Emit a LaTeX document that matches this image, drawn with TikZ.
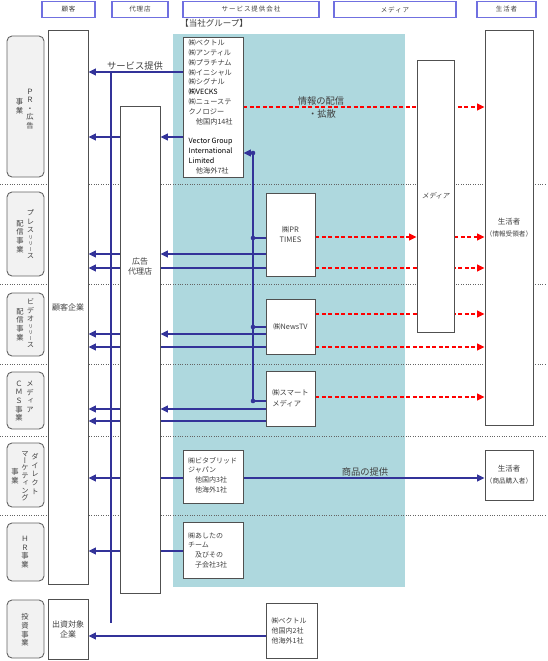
\documentclass[tikz,border=0pt]{standalone}
\usepackage{fontspec}
\setmainfont{Noto Sans CJK JP}
\newfontfamily\vfont[RawFeature=+vert]{Noto Sans CJK JP}
\newfontfamily\slfont[FakeSlant=0.2]{Noto Sans CJK JP}
\usetikzlibrary{arrows.meta}
\definecolor{lblue}{RGB}{51,51,153}
\definecolor{cyanbg}{RGB}{174,216,222}
\definecolor{hdr}{RGB}{112,112,224}
\definecolor{txt}{RGB}{64,64,64}
\definecolor{sepc}{RGB}{100,100,100}
\definecolor{boxc}{RGB}{80,80,80}
\definecolor{segfill}{RGB}{242,242,242}
\newcommand{\smk}[1]{{\fontsize{5}{6}\selectfont #1}}
\pgfdeclarelayer{bg}
\pgfdeclarelayer{mid}
\pgfsetlayers{bg,mid,main}
\tikzset{
 hdrbox/.style={draw=hdr, line width=1.4pt, fill=white, inner sep=0pt, text=txt,
   font=\fontsize{6.5}{8}\selectfont\addfontfeature{LetterSpace=15}},
 wbox/.style={draw=boxc, line width=0.9pt, fill=white, inner sep=0pt, text=txt},
 segbox/.style={draw=sepc, line width=0.9pt, fill=segfill, rounded corners=5pt, inner sep=0pt},
 vlab/.style={align=center, font=\vfont\fontsize{7.3}{8.6}\selectfont, text=txt, inner sep=0pt},
 btxt/.style={font=\fontsize{7.2}{9.8}\selectfont, text=txt, align=left, inner sep=0pt},
 lbl/.style={font=\fontsize{9.3}{11}\selectfont, text=txt, inner sep=0pt},
 barrow/.style={draw=lblue, line width=1.2pt, -{Triangle[length=7.5pt,width=7pt]}},
 bline/.style={draw=lblue, line width=1.2pt},
 rarrow/.style={draw=red, line width=1.3pt, dash pattern=on 4pt off 2.5pt, -{Triangle[length=7.5pt,width=7pt]}},
 sepline/.style={draw=sepc, line width=1pt, dash pattern=on 1pt off 1.4pt},
 dotn/.style={circle, fill=lblue, inner sep=0pt, minimum size=4.6pt},
}
\begin{document}
\begin{tikzpicture}[x=1pt,y=-1pt]
\useasboundingbox (0,0) rectangle (547,661);
\begin{pgfonlayer}{bg}
\fill[cyanbg] (173,34) rectangle (405,587);
\foreach \yy in {184,284,364,436,515}{\draw[sepline] (0,\yy) -- (547,\yy);}
\end{pgfonlayer}

% headers
\node[hdrbox, minimum width=53pt, minimum height=16pt] (h1) at (68.5,9.5) {顧客};
\node[hdrbox, minimum width=56pt, minimum height=16pt] (h2) at (140,9.5) {代理店};
\node[hdrbox, minimum width=136pt, minimum height=16pt] (h3) at (251,9.5) {サービス提供会社};
\node[hdrbox, minimum width=122pt, minimum height=16pt] (h4) at (395,9.5) {メディア};
\node[hdrbox, minimum width=59pt, minimum height=16pt] (h5) at (506.5,9.5) {生活者};
\node[lbl, font=\fontsize{8.5}{10}\selectfont] (grouplbl) at (214,23) {【当社グループ】};

% segment boxes
\node[segbox, minimum width=37pt, minimum height=141pt] (seg1) at (25.5,106.5) {};
\node[segbox, minimum width=37pt, minimum height=84pt] (seg2) at (25.5,234) {};
\node[segbox, minimum width=37pt, minimum height=63pt] (seg3) at (25.5,324.5) {};
\node[segbox, minimum width=37pt, minimum height=57pt] (seg4) at (25.5,400.5) {};
\node[segbox, minimum width=37pt, minimum height=64pt] (seg5) at (25.5,475) {};
\node[segbox, minimum width=37pt, minimum height=58pt] (seg6) at (25.5,552) {};
\node[segbox, minimum width=37pt, minimum height=58pt] (seg7) at (25.5,629) {};
\node[vlab] (s1r) at (30,109) {Ｐ\\Ｒ\\・\\広\\告};
\node[vlab] (s1l) at (19.5,106.5) {事\\業};
\node[vlab] (s2r) at (30.5,234) {プ\\レ\\ス\\[-1.5pt]\smk{リ}\\[-3pt]\smk{リ}\\[-3pt]\smk{ー}\\[-1.5pt]ス};
\node[vlab] (s2l) at (20,236.5) {配\\信\\事\\業};
\node[vlab] (s3r) at (30.5,323) {ビ\\デ\\オ\\[-1.5pt]\smk{リ}\\[-3pt]\smk{リ}\\[-3pt]\smk{ー}\\[-1.5pt]ス};
\node[vlab] (s3l) at (20,324.5) {配\\信\\事\\業};
\node[vlab] (s4r) at (30,397) {メ\\デ\\ィ\\ア};
\node[vlab] (s4l) at (19,401) {Ｃ\\Ｍ\\Ｓ\\事\\業};
\node[vlab] (s5r) at (35,474) {ダ\\イ\\レ\\ク\\ト};
\node[vlab, font=\vfont\fontsize{7.3}{7.4}\selectfont] (s5m) at (25,476) {マ\\ー\\ケ\\テ\\ィ\\ン\\グ};
\node[vlab] (s5l) at (15,476) {事\\業};
\node[vlab] (s6) at (25,552) {Ｈ\\Ｒ\\事\\業};
\node[vlab] (s7) at (25,630) {投\\資\\事\\業};

% main boxes
\node[wbox, minimum width=40pt, minimum height=554pt, font=\fontsize{8}{10}\selectfont] (kokyaku) at (68,307) {顧客企業};
\node[wbox, minimum width=40pt, minimum height=60pt, align=center, font=\fontsize{8}{10}\selectfont] (shusshi) at (68,629) {出資対象\\企業};
\node[wbox, minimum width=40pt, minimum height=487pt] (dairi) at (140,349.5) {};
\node[btxt, align=center, font=\fontsize{8}{9.5}\selectfont] (dairil) at (140,266.5) {広告\\代理店};
\node[wbox, minimum width=60pt, minimum height=140pt] (grp1) at (213,107) {};
\node[btxt, anchor=north west] (grp1t) at (188.5,39.5) {㈱ベクトル\\㈱アンティル\\㈱プラチナム\\㈱イニシャル\\㈱シグナル\\{\color{black}㈱VECKS}\\㈱ニューステ\\クノロジー\\　他国内14社\\[9.8pt]{\color{black}Vector Group}\\{\color{black}International}\\{\color{black}Limited}\\　他海外7社};
\node[wbox, minimum width=49pt, minimum height=83pt, align=center, font=\fontsize{7.5}{10}\selectfont] (ptimes) at (290.5,234.5) {㈱PR\\TIMES};
\node[wbox, minimum width=49pt, minimum height=55pt, font=\fontsize{7.3}{10}\selectfont] (newstv) at (290.5,326.5) {㈱NewsTV};
\node[wbox, minimum width=49pt, minimum height=55pt, align=left, font=\fontsize{7.3}{11}\selectfont] (smart) at (290.5,398.5) {㈱スマート\\メディア};
\node[wbox, minimum width=60pt, minimum height=53pt] (vita) at (213,476.5) {};
\node[btxt, anchor=north west, font=\fontsize{7}{9.7}\selectfont] (vitat) at (188,457) {㈱ビタブリッド\\ジャパン\\　他国内3社\\　他海外1社};
\node[wbox, minimum width=60pt, minimum height=56pt] (ashita) at (213,550) {};
\node[btxt, anchor=north west, font=\fontsize{7}{9.7}\selectfont] (ashitat) at (188,532) {㈱あしたの\\チーム\\　及びその\\　子会社3社};
\node[wbox, minimum width=51pt, minimum height=55pt] (vector2) at (291.5,630.5) {};
\node[btxt, anchor=north west, font=\fontsize{7}{9.8}\selectfont] (vector2t) at (271.5,617.5) {㈱ベクトル\\ 他国内2社\\ 他海外1社};
\node[wbox, minimum width=37pt, minimum height=272pt] (media) at (435.5,196) {};
\node[text=txt, inner sep=0pt, font=\slfont\fontsize{7}{8}\selectfont] (medial) at (435.5,196) {メディア};
\node[wbox, minimum width=48pt, minimum height=395pt, align=center] (seikatsu1) at (509,227.5) {{\fontsize{7.5}{9.5}\selectfont 生活者}\\{\fontsize{6.6}{9.5}\selectfont （情報受領者）}};
\node[wbox, minimum width=48pt, minimum height=50pt, align=center] (seikatsu2) at (509,475) {{\fontsize{7.5}{9.5}\selectfont 生活者}\\{\fontsize{6.6}{9.5}\selectfont （商品購入者）}};

% labels
\node[lbl] (servl) at (135,65.5) {サービス提供};
\node[lbl] (info1) at (321,101) {情報の配信};
\node[lbl] (info2) at (322,113.5) {・拡散};
\node[lbl] (shohin) at (365,471.5) {商品の提供};

% coordinates
\coordinate (v0) at (111,72);
\coordinate (v1) at (111,623);
\coordinate (j0) at (253,153);
\coordinate (j1) at (253,238);
\coordinate (j2) at (253,327);
\coordinate (j3) at (253,401);

\begin{pgfonlayer}{mid}
% blue
\draw[bline] (v0) -- (v1);
\draw[barrow] (grp1.west |- v0) -- (kokyaku.east |- v0);
\draw[barrow] (grp1.west |- 0,137) -- (dairi.east |- 0,137);
\draw[barrow] (dairi.west |- 0,137) -- (kokyaku.east |- 0,137);
\draw[bline] (j0) -- (j3);
\draw[barrow] (j0) -- (grp1.east |- j0);
\draw[bline] (j1) -- (ptimes.west |- j1);
\draw[bline] (j2) -- (newstv.west |- j2);
\draw[bline] (j3) -- (smart.west |- j3);
\draw[barrow] (ptimes.west |- 0,254) -- (dairi.east |- 0,254);
\draw[barrow] (dairi.west |- 0,254) -- (kokyaku.east |- 0,254);
\draw[barrow] (ptimes.west |- 0,268) -- (kokyaku.east |- 0,268);
\draw[barrow] (newstv.west |- 0,334) -- (dairi.east |- 0,334);
\draw[barrow] (dairi.west |- 0,334) -- (kokyaku.east |- 0,334);
\draw[barrow] (newstv.west |- 0,347) -- (kokyaku.east |- 0,347);
\draw[barrow] (smart.west |- 0,409) -- (dairi.east |- 0,409);
\draw[barrow] (dairi.west |- 0,409) -- (kokyaku.east |- 0,409);
\draw[barrow] (smart.west |- 0,421) -- (kokyaku.east |- 0,421);
\draw[barrow] (vita.west |- 0,478) -- (kokyaku.east |- 0,478);
\draw[barrow] (vita.east |- 0,478) -- (seikatsu2.west |- 0,478);
\draw[barrow] (ashita.west |- 0,551) -- (kokyaku.east |- 0,551);
\draw[barrow] (vector2.west |- 0,636) -- (shusshi.east |- 0,636);
% red
\draw[rarrow] (grp1.east |- 0,107) -- (seikatsu1.west |- 0,107);
\draw[rarrow] (ptimes.east |- 0,237) -- (media.west |- 0,237);
\draw[rarrow] (media.east |- 0,237) -- (seikatsu1.west |- 0,237);
\draw[rarrow] (ptimes.east |- 0,268) -- (seikatsu1.west |- 0,268);
\draw[rarrow] (newstv.east |- 0,314) -- (seikatsu1.west |- 0,314);
\draw[rarrow] (newstv.east |- 0,347) -- (seikatsu1.west |- 0,347);
\draw[rarrow] (smart.east |- 0,397) -- (seikatsu1.west |- 0,397);
\end{pgfonlayer}

\node[dotn] (d0) at (j0) {};
\node[dotn] (d1) at (j1) {};
\node[dotn] (d2) at (j2) {};
\node[dotn] (d3) at (j3) {};
\end{tikzpicture}
\end{document}
